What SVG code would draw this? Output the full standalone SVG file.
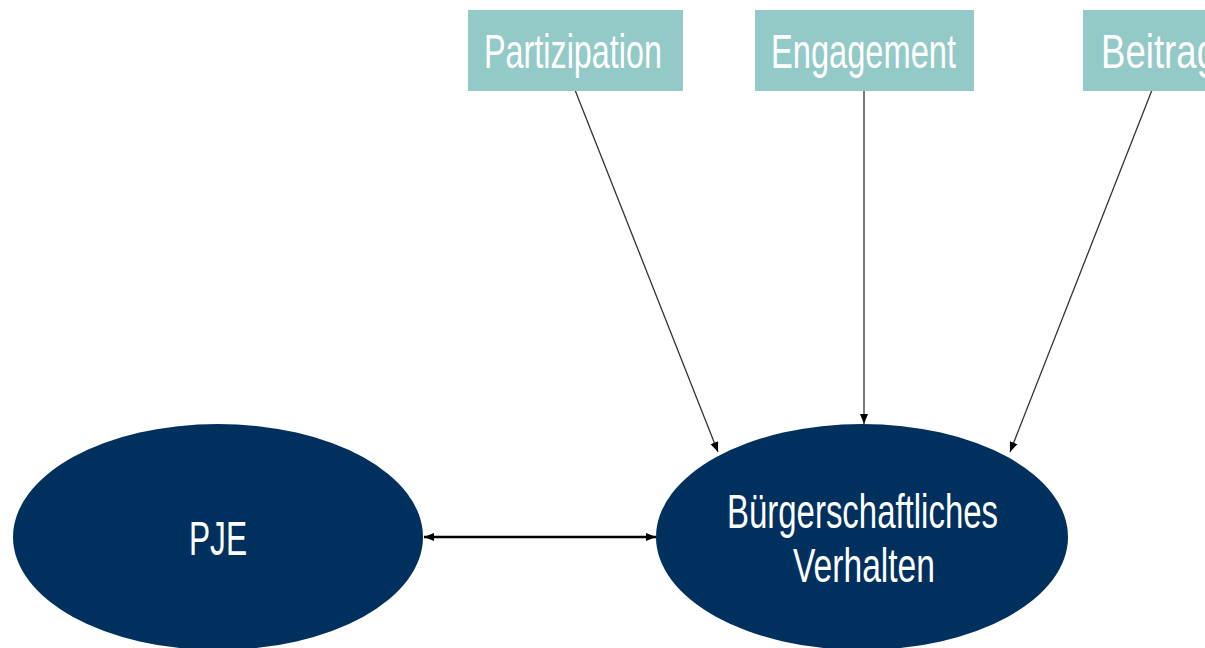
<svg xmlns="http://www.w3.org/2000/svg" width="1205" height="648" viewBox="0 0 1205 648">
<style>
.box{fill:#93c9c6}
.ell{fill:#00305e}
.t{font-family:"Liberation Sans",Arial,sans-serif;fill:#ffffff;font-size:48px}
.c{stroke:#333;stroke-width:1.3;fill:none}
</style>
<defs>
<marker id="ah" viewBox="0 0 10 10" refX="10" refY="5" markerWidth="10" markerHeight="10" markerUnits="userSpaceOnUse" orient="auto-start-reverse">
<path d="M0,1 L10,5 L0,9 z" fill="#000"/>
</marker>
</defs>
<rect width="1205" height="648" fill="#fff"/>
<g id="connectors">
<line class="c" x1="575" y1="90" x2="718" y2="452" marker-end="url(#ah)"/>
<line class="c" x1="864" y1="90" x2="864" y2="424" marker-end="url(#ah)"/>
<line class="c" x1="1152" y1="90" x2="1010" y2="452" marker-end="url(#ah)"/>
<line x1="424" y1="537" x2="656" y2="537" stroke="#000" stroke-width="2.5" marker-start="url(#ah)" marker-end="url(#ah)"/>
</g>
<g id="partizipation">
<rect class="box" x="468" y="10" width="215" height="81"/>
<text class="t" x="484" y="68" textLength="178" lengthAdjust="spacingAndGlyphs">Partizipation</text>
</g>
<g id="engagement">
<rect class="box" x="755" y="10" width="219" height="81"/>
<text class="t" x="771" y="68" textLength="185" lengthAdjust="spacingAndGlyphs">Engagement</text>
</g>
<g id="beitrag">
<rect class="box" x="1083" y="10" width="140" height="81"/>
<text class="t" x="1101" y="68" textLength="116" lengthAdjust="spacingAndGlyphs">Beitrag</text>
</g>
<g id="pje">
<ellipse class="ell" cx="218" cy="537" rx="205" ry="113"/>
<text class="t" x="189" y="555" textLength="58" lengthAdjust="spacingAndGlyphs">PJE</text>
</g>
<g id="buergerschaftliches">
<ellipse class="ell" cx="862" cy="537" rx="206" ry="113"/>
<text class="t" x="727" y="528" textLength="271" lengthAdjust="spacingAndGlyphs">Bürgerschaftliches</text>
<text class="t" x="793" y="582" textLength="142" lengthAdjust="spacingAndGlyphs">Verhalten</text>
</g>
</svg>
